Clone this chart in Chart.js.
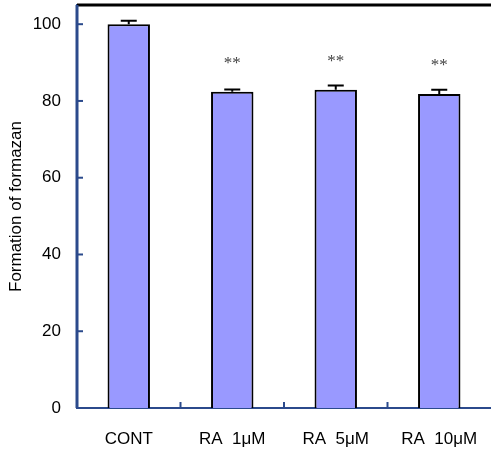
<!DOCTYPE html>
<html>
<head>
<meta charset="utf-8">
<script src="https://cdn.jsdelivr.net/npm/chart.js@4"></script>
<style>
html,body{margin:0;padding:0;background:#fff;}
#wrap{width:491px;height:452px;position:relative;}
</style>
</head>
<body>
<div id="wrap"><canvas id="c" width="491" height="452"></canvas></div>
<script>
const categories = ["CONT", "RA  1\u03BCM", "RA  5\u03BCM", "RA  10\u03BCM"];
const means = [100, 82.4, 82.9, 81.8];
const errors = [0.9, 0.6, 1.1, 1.1];
const marks = ["", "**", "**", "**"];
const markLevels = [0, 90.5, 91.0, 90.0];
const yTicks = [0, 20, 40, 60, 80, 100];

const axisColor = "#2B4A8C";
const fontFam = "Arial, 'Liberation Sans', sans-serif";

const overlay = {
  id: "overlay",
  afterDatasetsDraw(chart) {
    const ctx = chart.ctx;
    const xs = chart.scales.x, ys = chart.scales.y;
    const area = chart.chartArea;
    ctx.save();
    // top frame line
    ctx.strokeStyle = "#000";
    ctx.lineWidth = 3;
    ctx.beginPath();
    ctx.moveTo(area.left, area.top);
    ctx.lineTo(chart.width, area.top);
    ctx.stroke();
    // left axis line
    ctx.strokeStyle = axisColor;
    ctx.lineWidth = 3;
    ctx.beginPath();
    ctx.moveTo(area.left, area.top);
    ctx.lineTo(area.left, area.bottom);
    ctx.stroke();
    // inward y ticks
    ctx.lineWidth = 2;
    yTicks.forEach(v => {
      const y = ys.getPixelForValue(v);
      ctx.beginPath();
      ctx.moveTo(area.left, y);
      ctx.lineTo(area.left + 6, y);
      ctx.stroke();
    });
    // category boundary ticks
    for (let i = 0; i < categories.length - 1; i++) {
      const x = (xs.getPixelForValue(i) + xs.getPixelForValue(i + 1)) / 2;
      ctx.beginPath();
      ctx.moveTo(x, area.bottom);
      ctx.lineTo(x, area.bottom - 6);
      ctx.stroke();
    }
    // error bars
    ctx.strokeStyle = "#000";
    ctx.lineWidth = 2;
    means.forEach((m, i) => {
      const x = xs.getPixelForValue(i);
      const y0 = ys.getPixelForValue(m);
      const y1 = ys.getPixelForValue(m + errors[i]);
      ctx.beginPath();
      ctx.moveTo(x, y0);
      ctx.lineTo(x, y1);
      ctx.moveTo(x - 8, y1);
      ctx.lineTo(x + 8, y1);
      ctx.stroke();
    });
    // significance marks
    ctx.fillStyle = "#444";
    ctx.font = "17px 'Liberation Serif', serif";
    ctx.textAlign = "center";
    ctx.textBaseline = "middle";
    marks.forEach((s, i) => {
      if (!s) return;
      ctx.fillText(s, xs.getPixelForValue(i), ys.getPixelForValue(markLevels[i]) + 3);
    });
    ctx.restore();
  }
};

new Chart(document.getElementById("c"), {
  type: "bar",
  data: {
    labels: categories,
    datasets: [{
      data: means,
      backgroundColor: "#9999FF",
      borderColor: "#000",
      borderWidth: 2,
      borderSkipped: "bottom",
      categoryPercentage: 1.0,
      barPercentage: 0.41
    }]
  },
  options: {
    responsive: false,
    animation: false,
    devicePixelRatio: 1,
    layout: { padding: { top: 5, right: 0, left: 0, bottom: 0 } },
    plugins: { legend: { display: false }, tooltip: { enabled: false } },
    scales: {
      x: {
        grid: { display: false },
        border: { display: true, color: axisColor, width: 2 },
        ticks: { color: "#000", font: { family: fontFam, size: 17 }, padding: 13, maxRotation: 0 },
        afterFit(s) { s.height = 44; s.paddingLeft = 0; s.paddingRight = 0; }
      },
      y: {
        min: 0, max: 105,
        grid: { display: false },
        border: { display: true, color: axisColor, width: 2 },
        afterBuildTicks(s) { s.ticks = yTicks.map(v => ({ value: v })); },
        ticks: {
          color: "#000",
          font: { family: fontFam, size: 17 },
          padding: 8
        },
        title: {
          display: true,
          text: "Formation of formazan",
          color: "#000",
          font: { family: fontFam, size: 17 },
          padding: { top: 6, bottom: 0 }
        },
        afterFit(s) { s.width = 77; s.paddingTop = 0; s.paddingBottom = 0; }
      }
    }
  },
  plugins: [overlay]
});
</script>
</body>
</html>
